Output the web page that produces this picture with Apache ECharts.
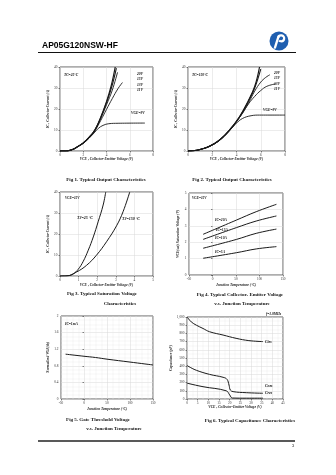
<!DOCTYPE html>
<html><head><meta charset="utf-8">
<script src="https://cdn.jsdelivr.net/npm/echarts@6/dist/echarts.min.js"></script>
<style>html,body{margin:0;padding:0;background:#fff}#c{width:336px;height:475px}</style>
</head><body><div id="c"></div>
<script>
// Fig 1: output characteristics at Tc = 25°C  [VCE (V), IC (A)]
const f1_20V = [[0,0],[0.5,0],[0.85,0.3],[1.2,1],[1.5,2],[2,3.8],[2.5,6.5],[3,10],[3.5,16],[4,23.5],[4.4,31],[4.75,40]];
const f1_15V = [[0,0],[0.5,0],[0.85,0.3],[1.2,1],[1.5,2],[2,3.8],[2.5,6.5],[3,10],[3.5,15.8],[4,23],[4.45,30.5],[4.85,39.5]];
const f1_13V = [[0,0],[0.5,0],[0.85,0.3],[1.2,1],[1.5,2],[2,3.8],[2.5,6.4],[3,9.9],[3.5,15.5],[4,22],[4.5,29],[4.95,37.5]];
const f1_11V = [[0,0],[0.5,0],[0.85,0.3],[1.2,1],[1.5,2],[2,3.8],[2.5,6.3],[3,9.6],[3.5,14.5],[4,19.8],[4.5,25],[5,29.8],[5.37,32.6]];
const f1_9V  = [[0,0],[0.5,0],[0.85,0.3],[1.2,1],[1.5,2],[2,3.7],[2.5,6.1],[3,9],[3.3,10.8],[3.7,12.2],[4.2,13],[5,13.2],[7.3,13.3]];
// Fig 2: output characteristics at Tc = 150°C
const f2_20V = [[0,0],[0.5,0.2],[0.92,0.6],[1.75,2.2],[2.58,5.1],[3.42,9.9],[4.25,16.3],[4.94,23.5],[5.5,30.7],[5.9,40]];
const f2_15V = [[0,0],[0.5,0.2],[0.92,0.6],[1.75,2.2],[2.58,5.1],[3.42,9.9],[4.25,16.2],[4.94,23.2],[5.5,30],[6,39]];
const f2_13V = [[0,0],[0.5,0.2],[0.92,0.6],[1.75,2.2],[2.58,5.1],[3.42,9.8],[4.25,16],[5,23],[5.5,28.5],[6,32.8],[6.4,35],[6.75,36.3]];
const f2_11V = [[0,0],[0.5,0.2],[0.92,0.6],[1.75,2.2],[2.58,5],[3.42,9.6],[4,14],[4.5,18],[5,22.5],[5.5,26],[6,28.8],[6.5,30.8],[7.25,32]];
const f2_9V  = [[0,0],[0.5,0.2],[0.92,0.6],[1.75,2.2],[2.58,5],[3.3,9],[3.97,13.1],[4.5,15.5],[5.2,16.8],[5.9,17.1],[8,17.1]];
// Fig 3: saturation characteristics, VGE = 15V
const f3_25C  = [[0,0],[0.45,0.16],[0.71,1],[0.98,3.2],[1.25,7],[1.52,12.3],[1.79,18.6],[2.05,25.8],[2.32,33.8],[2.46,40]];
const f3_150C = [[0,0],[0.36,0.05],[0.89,1.9],[1.43,5.1],[1.96,9.9],[2.5,16.3],[3.04,23.9],[3.39,30.6],[3.75,40]];
// Fig 4: VCE(sat) vs junction temperature [Tj (°C), VCE (V)]
const f4_20A = [[-20,2.48],[51,3.35],[93,3.86],[136,4.31]];
const f4_15A = [[-20,2.17],[51,2.89],[93,3.29],[136,3.6]];
const f4_10A = [[-20,1.63],[51,2.17],[93,2.54],[136,2.8]];
const f4_5A  = [[-20,1.02],[51,1.36],[93,1.59],[136,1.73]];
// Fig 5: normalized gate threshold voltage vs junction temperature
const f5_vth = [[-40,1.08],[0,1.03],[25,1.0],[50,0.96],[100,0.89],[150,0.82]];
// Fig 6: capacitances vs VCE [V, pF]
const f6_cies = [[0,1000],[0.5,985],[2,940],[4.4,900],[7.5,860],[10.6,820],[16.9,780],[23,740],[29,712],[35.6,700]];
const f6_coes = [[0,410],[0.5,400],[4.4,350],[10.6,300],[16.9,265],[18.75,240],[19.7,170],[20.3,110],[21.6,90],[27.8,77],[35.6,70]];
const f6_cres = [[0,195],[0.5,190],[7.5,150],[18.4,100],[20,50],[21.25,12],[28,10],[35.6,10]];

// axis ranges [min, max, interval]
const xTicks1 = [0, 8, 2], yTicks1 = [0, 40, 10];
const xTicks3 = [0, 5, 1], yTicks3 = [0, 40, 10];
const xTicks4 = [-50, 150, 50], yTicks4 = [0, 5, 1];
const xTicks5 = [-50, 150, 50], yTicks5 = [0, 2, 0.4];
const xTicks6 = [0, 45, 5], yTicks6 = [0, 1000, 100];

const serif = 'Liberation Serif';
const grids = [
  {left:60, top:67, width:93, height:84},
  {left:188, top:67, width:97, height:84},
  {left:60, top:192, width:93, height:84},
  {left:189, top:193, width:94, height:82},
  {left:61, top:316, width:92, height:83},
  {left:187, top:317, width:96, height:82}
];
grids.forEach(g => { g.show = true; g.borderColor = '#333'; g.borderWidth = 0.8; g.backgroundColor = '#fff'; });

function axis(idx, r, name, gap, minor) {
  return {
    type:'value', gridIndex:idx, min:r[0], max:r[1], interval:r[2],
    name:name, nameLocation:'middle', nameGap:gap,
    nameTextStyle:{fontFamily:serif, fontSize:3.6, fontStyle:'italic', fontWeight:'bold', color:'#222'},
    axisLine:{show:false},
    axisTick:{show:true, length:1.5, lineStyle:{color:'#333', width:0.6}},
    axisLabel:{fontFamily:serif, fontSize:3.4, color:'#333', margin:2.5, showMinLabel:true, showMaxLabel:true, hideOverlap:false},
    splitLine:{show:true, lineStyle:{color:'#d8d8d8', width:0.5}},
    minorTick:{show:false, splitNumber: minor || 5},
    minorSplitLine:{show:!!minor, lineStyle:{color:'#ececec', width:0.4}}
  };
}

const xAxes = [
  axis(0,xTicks1,'VCE , Collector-Emitter Voltage (V)',6),
  axis(1,xTicks1,'VCE , Collector-Emitter Voltage (V)',6),
  axis(2,xTicks3,'VCE , Collector-Emitter Voltage (V)',7),
  axis(3,xTicks4,'Junction Temperature (°C)',8),
  axis(4,xTicks5,'Junction Temperature (°C)',8,4),
  axis(5,xTicks6,'VCE , Collector-Emitter Voltage (V)',6,2)
];
const yAxes = [
  axis(0,yTicks1,'IC , Collector Current (A)',7),
  axis(1,yTicks1,'IC , Collector Current (A)',7),
  axis(2,yTicks3,'IC , Collector Current (A)',9),
  axis(3,yTicks4,'VCE(sat) Saturation Voltage (V)',9),
  axis(4,yTicks5,'Normalized VGE(th)',10,4),
  axis(5,yTicks6,'Capacitance (pF)',10,2)
];

function line(idx, data, w) {
  return {type:'line', xAxisIndex:idx, yAxisIndex:idx, data:data, smooth:0.4, symbol:'none',
    lineStyle:{color:'#1a1a1a', width:w || 0.9}, animation:false, silent:true};
}

const series = [
  line(0,f1_20V,1.2), line(0,f1_15V,1.1), line(0,f1_13V,0.9), line(0,f1_11V,0.9), line(0,f1_9V,0.9),
  line(1,f2_20V,1.2), line(1,f2_15V,1.1), line(1,f2_13V,0.9), line(1,f2_11V,0.9), line(1,f2_9V,0.9),
  line(2,f3_25C,1), line(2,f3_150C,1),
  line(3,f4_20A,1), line(3,f4_15A,1), line(3,f4_10A,1), line(3,f4_5A,1),
  line(4,f5_vth,1),
  line(5,f6_cies,1), line(5,f6_coes,1), line(5,f6_cres,1)
];

function txt(x, y, s, size) {
  return {type:'text', x:x, y:y, z:100, style:{
    text:s, fontFamily:serif, fontSize:size, fontWeight:'bold', fontStyle:'italic', fill:'#111',
    verticalAlign:'middle'}};
}
function caption(x, y, s) {
  return {type:'text', x:x, y:y, z:100, style:{text:s, fontFamily:serif, fontSize:5, fontWeight:'bold',
    fill:'#111', align:'center', verticalAlign:'middle'}};
}

const graphic = [
  {type:'text', x:42, y:46, style:{text:'AP05G120NSW-HF', fontFamily:'Liberation Sans', fontSize:8.5, fontWeight:'bold', fill:'#000', verticalAlign:'middle'}},
  {type:'line', shape:{x1:38, y1:52.5, x2:296, y2:52.5}, style:{stroke:'#111', lineWidth:1}},
  {type:'circle', shape:{cx:279, cy:41, r:9.5}, style:{fill:'#1f5fb0'}},
  {type:'line', shape:{x1:275, y1:47.5, x2:278.5, y2:36.5}, style:{stroke:'#fff', lineWidth:2.4, lineCap:'round'}},
  {type:'arc', shape:{cx:281.2, cy:38.3, r:3, startAngle:-Math.PI*0.95, endAngle:Math.PI*0.75}, style:{stroke:'#fff', lineWidth:2.2, fill:null}},
  // fig 1 annotations
  txt(64,75,'TC=25°C',3.6), txt(137,74,'20V',3.6), txt(137,79.5,'15V',3.6), txt(137,85,'13V',3.6), txt(137,90.5,'11V',3.6),
  txt(131,113,'VGE=9V',3.6),
  // fig 2 annotations
  txt(192,75,'TC=150°C',3.6), txt(274,73,'20V',3.6), txt(274,78.5,'15V',3.6), txt(274,84,'13V',3.6), txt(274,89.5,'11V',3.6),
  txt(263,110,'VGE=9V',3.6),
  // fig 3 annotations
  txt(65,198,'VGE=15V',3.4), txt(77,218,'TJ=25 °C',4), txt(122,219,'TJ=150 °C',4),
  // fig 4 annotations
  txt(192,198,'VGE=15V',3.4), txt(215,220,'IC=20A',3.6), txt(216,230,'IC=15A',3.6), txt(215,238.5,'IC=10A',3.6), txt(215,252,'IC=5A',3.6),
  // fig 5 annotation
  txt(65,324,'IC=1mA',3.6),
  // fig 6 annotations
  txt(266,314,'f=1.0MHz',3.6), txt(265,342,'Cies',3.8), txt(265,386,'Coes',3.8), txt(265,393,'Cres',3.8),
  // captions
  caption(106,180,'Fig 1. Typical Output Characteristics'),
  caption(232,180,'Fig 2. Typical Output Characteristics'),
  caption(102,294,'Fig 3. Typical Saturation Voltage'),
  caption(120,304,'Characteristics'),
  caption(240,295,'Fig 4. Typical Collector- Emitter Voltage'),
  caption(242,304,'v.s. Junction Temperature'),
  caption(98,420,'Fig 5. Gate Threshold Voltage'),
  caption(114,429,'v.s. Junction Temperature'),
  caption(250,421,'Fig 6. Typical Capacitance Characteristics'),
  {type:'line', shape:{x1:38, y1:441, x2:295, y2:441}, style:{stroke:'#222', lineWidth:1.4}},
  {type:'text', x:293, y:446, style:{text:'3', fontFamily:serif, fontSize:5, fill:'#111', align:'center', verticalAlign:'middle'}}
];

const chart = echarts.init(document.getElementById('c'), null, {renderer:'canvas'});
chart.setOption({
  animation:false,
  backgroundColor:'#fff',
  grid:grids, xAxis:xAxes, yAxis:yAxes, series:series, graphic:graphic
});
</script></body></html>
